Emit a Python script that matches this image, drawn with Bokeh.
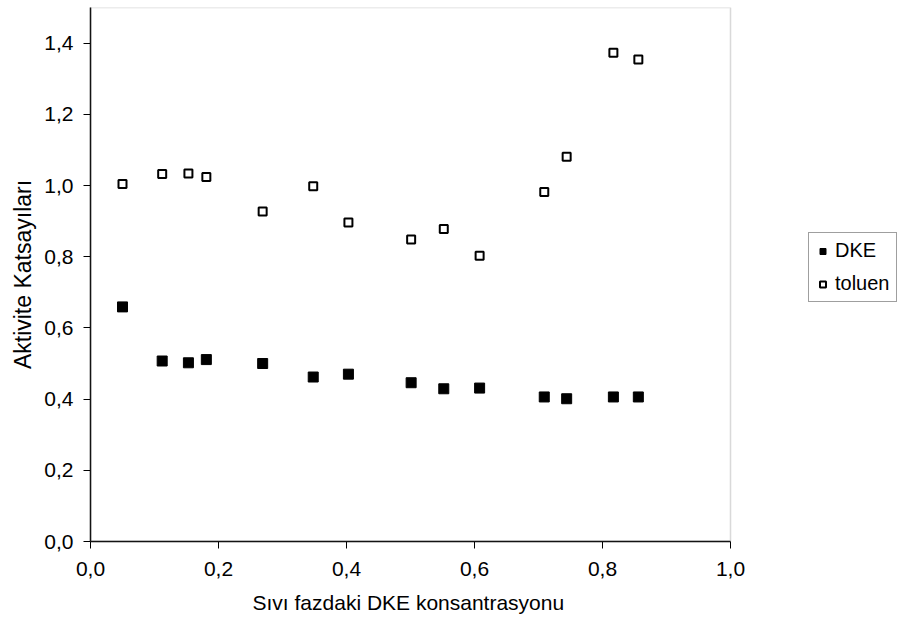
from bokeh.plotting import figure
from bokeh.models import Range1d, FixedTicker, Legend, LegendItem, ColumnDataSource, BoxAnnotation, Title
from bokeh.embed import file_html
from bokeh.resources import INLINE

# Data
x_values = [0.050, 0.112, 0.153, 0.181, 0.269, 0.348, 0.403, 0.501, 0.552, 0.608, 0.709, 0.744, 0.817, 0.856]
dke = [0.659, 0.507, 0.502, 0.511, 0.500, 0.462, 0.470, 0.446, 0.429, 0.431, 0.406, 0.401, 0.406, 0.406]
toluen = [1.004, 1.032, 1.034, 1.024, 0.927, 0.998, 0.896, 0.848, 0.878, 0.803, 0.982, 1.081, 1.373, 1.354]

x_ticks = [0.0, 0.2, 0.4, 0.6, 0.8, 1.0]
x_tick_labels = ["0,0", "0,2", "0,4", "0,6", "0,8", "1,0"]
y_ticks = [0.0, 0.2, 0.4, 0.6, 0.8, 1.0, 1.2, 1.4]
y_tick_labels = ["0,0", "0,2", "0,4", "0,6", "0,8", "1,0", "1,2", "1,4"]

series_names = ["DKE", "toluen"]
x_title = "Sıvı fazdaki DKE konsantrasyonu"
y_title = "Aktivite Katsayıları"

FONT = "Liberation Sans"

X_MIN, X_MAX, Y_MIN, Y_MAX = 0.0, 1.0, 0.0, 1.5
LEFT, FRAME_W = 90, 640
W, H = 905, 626
# frame is extended to the right so the legend can sit inside it without clipping
x_end = X_MAX * (W - 2 - LEFT) / FRAME_W

p = figure(width=W, height=H, output_backend="svg", toolbar_location=None,
           x_range=Range1d(X_MIN, x_end), y_range=Range1d(Y_MIN, Y_MAX),
           min_border_left=LEFT, min_border_right=2, min_border_top=7, min_border_bottom=85)
p.background_fill_color = "white"
p.border_fill_color = "white"
p.outline_line_color = None
p.xgrid.visible = False
p.ygrid.visible = False

# plot-area border (top / right in gray)
p.add_layout(BoxAnnotation(left=X_MIN, right=X_MAX, bottom=Y_MIN, top=Y_MAX,
                           fill_alpha=0, line_color="#808080", line_width=1.5))

src = ColumnDataSource(dict(x=x_values, dke=dke, toluen=toluen))
r1 = p.scatter("x", "dke", source=src, marker="square", size=10,
               fill_color="black", line_color="black", line_width=1)
r2 = p.scatter("x", "toluen", source=src, marker="square", size=8,
               fill_color="white", line_color="black", line_width=2)

for ax, ticks, labels, bnds in ((p.xaxis[0], x_ticks, x_tick_labels, (X_MIN, X_MAX)),
                                (p.yaxis[0], y_ticks, y_tick_labels, (Y_MIN, Y_MAX))):
    ax.ticker = FixedTicker(ticks=ticks)
    ax.bounds = bnds
    ax.major_label_overrides = {t: l for t, l in zip(ticks, labels)}
    ax.minor_tick_line_color = None
    ax.major_tick_out = 7
    ax.major_tick_in = 0
    ax.axis_line_color = "black"
    ax.axis_line_width = 1.5
    ax.major_tick_line_color = "black"
    ax.major_tick_line_width = 1
    ax.major_label_text_font = FONT
    ax.major_label_text_font_size = "21px"
    ax.major_label_text_color = "black"
    ax.axis_label_text_font = FONT
    ax.axis_label_text_font_style = "normal"
    ax.axis_label_text_color = "black"

p.yaxis.axis_label = y_title
p.yaxis.axis_label_text_font_size = "23px"
p.xaxis.major_label_standoff = 13
p.yaxis.major_label_standoff = 10
p.yaxis.axis_label_standoff = 5

# x-axis title, centred under the [0, 1] part of the axis
xt = Title(text=x_title, align="left", offset=162, standoff=21)
xt.text_font = FONT
xt.text_font_size = "21px"
xt.text_font_style = "normal"
xt.text_color = "black"
p.add_layout(xt, "below")

legend = Legend(items=[LegendItem(label=series_names[0], renderers=[r1]),
                       LegendItem(label=series_names[1], renderers=[r2])],
                location=(718, 239))
legend.border_line_color = "#404040"
legend.border_line_width = 1
legend.background_fill_color = "white"
legend.background_fill_alpha = 1
legend.label_text_font = FONT
legend.label_text_font_size = "20px"
legend.label_text_color = "black"
legend.label_height = 20
legend.glyph_height = 20
legend.glyph_width = 15
legend.spacing = 10
legend.padding = 6
legend.margin = 0
legend.label_standoff = 5
p.add_layout(legend, "center")

open("out.html", "w").write(file_html(p, INLINE))
